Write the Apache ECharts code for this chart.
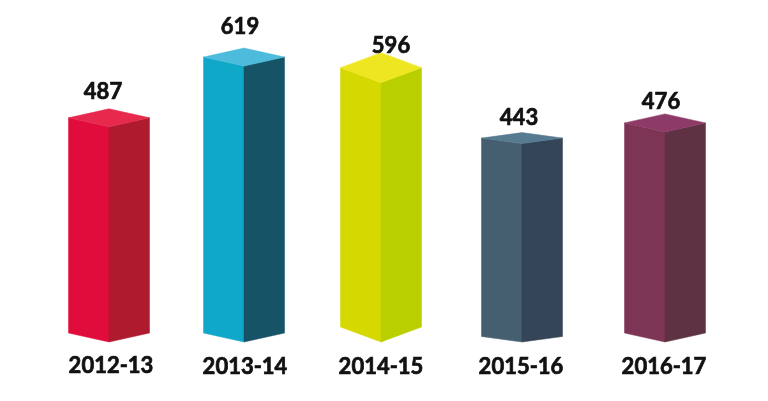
<!DOCTYPE html>
<html>
<head>
<meta charset="utf-8">
<script src="https://cdn.jsdelivr.net/npm/echarts@6/dist/echarts.min.js"></script>
<style>html,body{margin:0;padding:0;background:#fff}#c{width:768px;height:401px}</style>
</head>
<body>
<div id="c"></div>
<script>
// Data
var categories = ['2012-13', '2013-14', '2014-15', '2015-16', '2016-17'];
var values = [487, 619, 596, 443, 476];

// Colours per bar
var frontColors = ['#E00C3C', '#10A8C8', '#D6D900', '#465F70', '#7C3555'];
var sideColors  = ['#AE1A2E', '#165367', '#B9CF00', '#334557', '#5E3243'];
var topColors   = ['#E7294D', '#4DBBDB', '#EFE622', '#567A90', '#8E3A68'];

// Layout of the hand-drawn reference, in pixels
var barShift   = [2.5, -1.5, -3.5, -1.5, 2.5];
var barDepth   = [9, 9, 15, 5.5, 9];
var labelLift  = [17, 21, 7, 15, 12];
var labelShift = [-3.5, -5.5, 6.5, -4.5, -1.5];
var axisShift  = [4.5, -0.5, -3.5, -2.5, 1.5];
var axisDrop   = [0, 2, 2, 2, 2];
var halfWidth = 40.5;
var labelFont = 'Lato, "Open Sans", sans-serif';
var inkColor = '#111';
var inkWeight = 0.7;

var rich = {};
categories.forEach(function (c, i) {
  var s = axisShift[i] * 2;
  rich['l' + i] = {
    fontFamily: labelFont, fontWeight: 'bold', fontSize: 22, color: inkColor,
    textBorderColor: inkColor, textBorderWidth: inkWeight,
    lineHeight: 26,
    padding: [axisDrop[i], s < 0 ? -s : 0, 0, s > 0 ? s : 0]
  };
});

function renderBar(params, api) {
  var i = params.dataIndex;
  var pTop = api.coord([api.value(0), api.value(1)]);
  var pBase = api.coord([api.value(0), 0]);
  var cx = pTop[0] + barShift[i];
  var d = barDepth[i];
  var l = cx - halfWidth, r = cx + halfWidth;
  var yt = pTop[1], yb = pBase[1];
  function poly(pts, color) {
    return { type: 'polygon', shape: { points: pts },
      style: { fill: color, stroke: color, lineWidth: 0.5 } };
  }
  return {
    type: 'group',
    children: [
      poly([[l, yt], [cx, yt + d], [cx, yb], [l, yb - d]], frontColors[i]),
      poly([[cx, yt + d], [r, yt], [r, yb - d], [cx, yb]], sideColors[i]),
      poly([[l, yt], [cx, yt - d], [r, yt], [cx, yt + d]], topColors[i]),
      { type: 'text',
        style: {
          text: String(api.value(1)),
          x: pTop[0] + labelShift[i],
          y: yt - d - labelLift[i],
          align: 'center', verticalAlign: 'middle',
          font: 'bold 22px ' + labelFont,
          fill: inkColor,
          stroke: inkColor,
          lineWidth: inkWeight
        } }
    ]
  };
}

var chart = echarts.init(document.getElementById('c'), null, { renderer: 'canvas' });
chart.setOption({
  animation: false,
  backgroundColor: '#ffffff',
  grid: { left: 37, right: 36, top: 0, bottom: 59 },
  xAxis: {
    type: 'category',
    data: categories,
    axisLine: { show: false },
    axisTick: { show: false },
    axisLabel: {
      interval: 0,
      margin: 11,
      formatter: function (v, i) { return '{l' + i + '|' + v + '}'; },
      rich: rich
    }
  },
  yAxis: { type: 'value', min: 0, max: 743, show: false, splitLine: { show: false } },
  series: [{
    type: 'custom',
    coordinateSystem: 'cartesian2d',
    clip: false,
    renderItem: renderBar,
    encode: { x: 0, y: 1 },
    data: values.map(function (v, i) { return [i, v]; })
  }]
});
</script>
</body>
</html>
